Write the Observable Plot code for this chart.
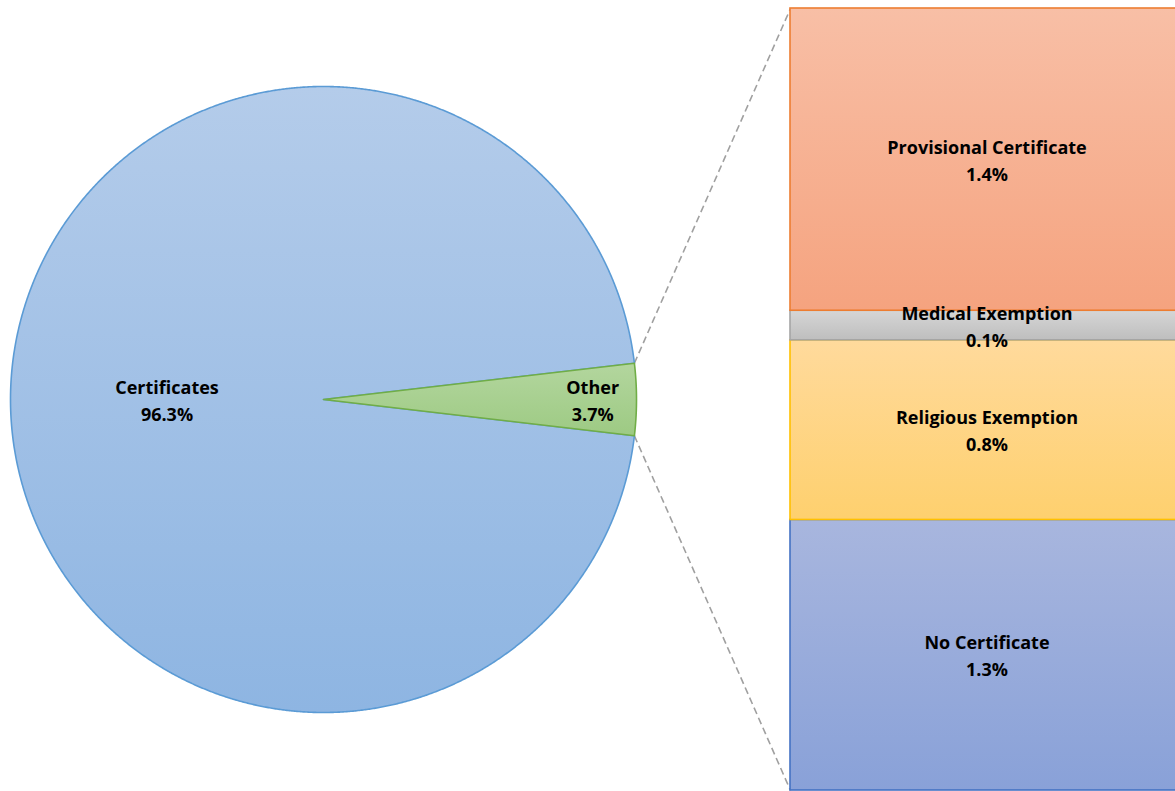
<!DOCTYPE html>
<html><head><meta charset="utf-8">
<script src="https://cdn.jsdelivr.net/npm/d3@7"></script>
<script src="https://cdn.jsdelivr.net/npm/@observablehq/plot@0.6"></script>
<style>html,body{margin:0;padding:0;background:#fff;overflow:hidden}</style>
</head><body><div id="chart"></div>
<script>
// ---- data ----
const pieCategories = ["Certificates", "Other"];
const pieValues = [96.3, 3.7];
const pieLabels = ["96.3%", "3.7%"];

const barCategories = ["Provisional Certificate", "Medical Exemption", "Religious Exemption", "No Certificate"];
const barValues = [1.43, 0.14, 0.85, 1.28];
const barLabels = ["1.4%", "0.1%", "0.8%", "1.3%"];

// ---- layout ----
const W = 1175, H = 791, R = 313, CX = 323, CY = 399;
const BAR_X1 = (790 - CX) / R, BAR_X2 = (1183 - CX) / R, BAR_H = (CY - 8) / R;
const FONT = "'Open Sans', Lato, sans-serif";
const FS = 18;

const pieFills = ["url(#gPie)", "url(#gOther)"];
const pieStrokes = ["#5B9BD5", "#70AD47"];
const pieLabelRadius = [0.5, 0.86];
const barFills = ["url(#gProv)", "url(#gMed)", "url(#gRel)", "url(#gNo)"];
const barStrokes = ["#ED7D31", "#A5A5A5", "#FFC000", "#4472C4"];

// ---- pie geometry ----
const total = d3.sum(pieValues);
const otherAngle = 2 * Math.PI * pieValues[1] / total;
const start = Math.PI / 2 + otherAngle / 2;
const arcs = d3.pie().sort(null).startAngle(start).endAngle(start + 2 * Math.PI)(pieValues);

const wedges = arcs.map((a, i) => {
  const n = Math.max(8, Math.ceil((a.endAngle - a.startAngle) / 0.004));
  const pts = [{x: 0, y: 0}];
  for (let k = 0; k <= n; ++k) {
    const t = a.startAngle + (a.endAngle - a.startAngle) * k / n;
    pts.push({x: Math.sin(t), y: Math.cos(t)});
  }
  pts.push({x: 0, y: 0});
  return pts;
});

const pieText = arcs.map((a, i) => {
  const m = (a.startAngle + a.endAngle) / 2;
  return {x: Math.sin(m) * pieLabelRadius[i], y: Math.cos(m) * pieLabelRadius[i], text: pieCategories[i] + "\n" + pieLabels[i]};
});

// ---- bar geometry (stacked bottom-up) ----
const vScale = d3.scaleLinear([0, d3.sum(barValues)], [-BAR_H, BAR_H]);
const barData = [];
let acc = 0;
for (let i = barValues.length - 1; i >= 0; --i) {
  barData.push({i, y1: vScale(acc), y2: vScale(acc + barValues[i]),
    fill: barFills[i], stroke: barStrokes[i], text: barCategories[i] + "\n" + barLabels[i]});
  acc += barValues[i];
}

// connectors from slice edge to bar corners
const other = arcs[1];
const links = [
  {x1: Math.sin(other.startAngle), y1: Math.cos(other.startAngle), x2: BAR_X1, y2: BAR_H},
  {x1: Math.sin(other.endAngle), y1: Math.cos(other.endAngle), x2: BAR_X1, y2: -BAR_H}
];

const defs = () => {
  const d = d3.create("svg:defs");
  const add = (id, c0, c1) => {
    const g = d.append("linearGradient").attr("id", id).attr("x1", 0).attr("y1", 0).attr("x2", 0).attr("y2", 1);
    g.append("stop").attr("offset", "0%").attr("stop-color", c0);
    g.append("stop").attr("offset", "100%").attr("stop-color", c1);
  };
  add("gPie", "#B4CCEA", "#8EB5E2");
  add("gOther", "#B3D69E", "#9DCA83");
  add("gProv", "#F8BFA6", "#F5A37F");
  add("gMed", "#D6D6D6", "#BEBEBE");
  add("gRel", "#FFDA9C", "#FED06E");
  add("gNo", "#A8B6DE", "#89A1D8");
  return d.node();
};

const chart = Plot.plot({
  width: W, height: H,
  margin: 0,
  x: {domain: [-CX / R, (W - CX) / R], range: [0, W], axis: null},
  y: {domain: [-(H - CY) / R, CY / R], range: [H, 0], axis: null},
  color: {type: "identity"},
  style: {fontFamily: FONT, overflow: "hidden", background: "#fff"},
  marks: [
    defs,
    Plot.link(links, {x1: "x1", y1: "y1", x2: "x2", y2: "y2", stroke: "#A0A0A0", strokeWidth: 1.6, strokeDasharray: "7,4"}),
    ...wedges.map((w, i) => Plot.line(w, {x: "x", y: "y", fill: pieFills[i], stroke: pieStrokes[i], strokeWidth: 1.6, strokeLinejoin: "round"})),
    Plot.rect(barData, {x1: BAR_X1, x2: BAR_X2, y1: "y1", y2: "y2", fill: "fill", stroke: "stroke", strokeWidth: 1.6}),
    Plot.text(pieText, {x: "x", y: "y", dy: -1, text: "text", fontSize: FS, fontWeight: "bold", fill: "#000", lineHeight: 1.5}),
    Plot.text(barData, {x: (BAR_X1 + BAR_X2) / 2, y: d => (d.y1 + d.y2) / 2, dy: -1, text: "text", fontSize: FS, fontWeight: "bold", fill: "#000", lineHeight: 1.5})
  ]
});
document.getElementById("chart").appendChild(chart);
</script>
</body></html>
